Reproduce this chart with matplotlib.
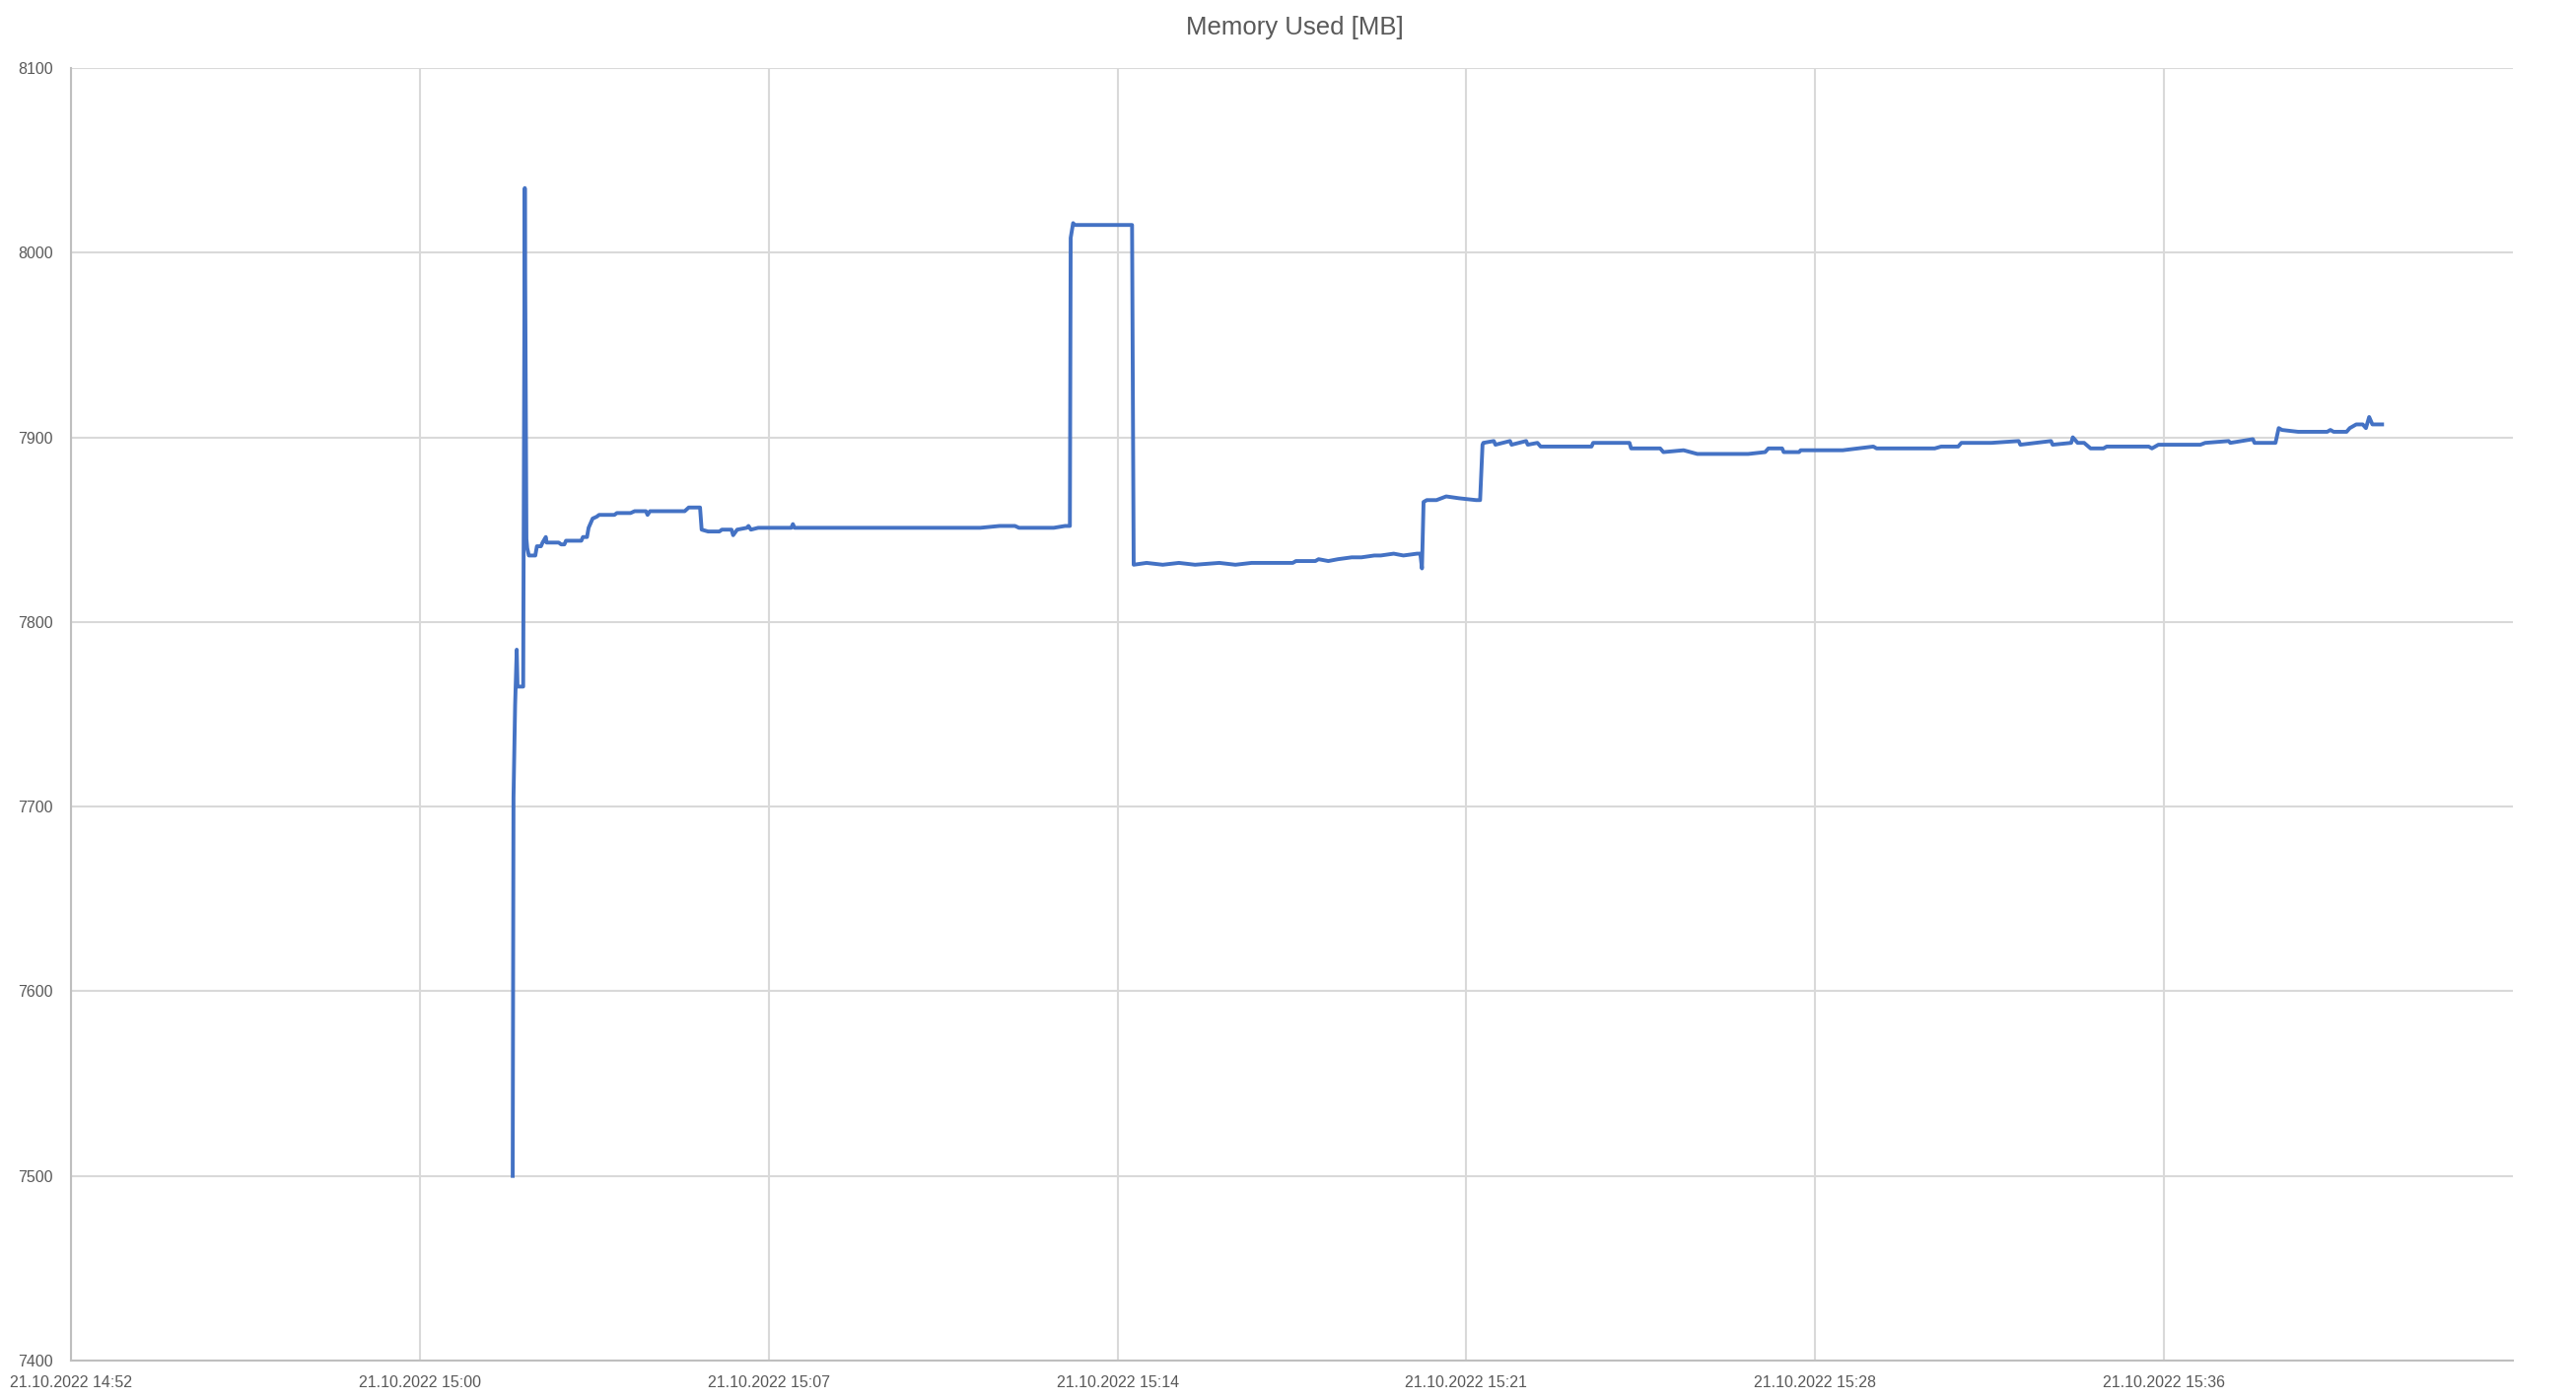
import matplotlib
matplotlib.use("Agg")
import matplotlib.pyplot as plt
import matplotlib.dates as mdates
import pandas as pd

# Leituras aproximadas do gráfico (21.10.2022)
times = [
    "15:01:55", "15:01:56", "15:01:58", "15:02:00", "15:02:01", "15:02:08",
    "15:02:10", "15:02:12", "15:02:13", "15:02:15", "15:02:23", "15:02:25",
    "15:02:30", "15:02:32", "15:02:36", "15:02:37", "15:02:40", "15:02:52",
    "15:02:55", "15:02:59", "15:03:01", "15:03:20", "15:03:22", "15:03:27",
    "15:03:29", "15:03:34", "15:03:39", "15:03:42", "15:04:01", "15:04:04",
    "15:04:21", "15:04:26", "15:04:40", "15:04:42", "15:04:45", "15:05:28",
    "15:05:33", "15:05:47", "15:05:49", "15:05:57", "15:06:11", "15:06:14",
    "15:06:26", "15:06:28", "15:06:33", "15:06:45", "15:06:47", "15:06:50",
    "15:06:59", "15:07:04", "15:07:40", "15:07:42", "15:07:44", "15:11:34",
    "15:11:58", "15:12:17", "15:12:22", "15:13:05", "15:13:19", "15:13:25",
    "15:13:26", "15:13:29", "15:13:31", "15:14:42", "15:14:44", "15:15:00",
    "15:15:20", "15:15:40", "15:16:00", "15:16:30", "15:16:50", "15:17:10",
    "15:17:24", "15:17:28", "15:18:01", "15:18:05", "15:18:29", "15:18:33",
    "15:18:45", "15:18:57", "15:19:14", "15:19:26", "15:19:42", "15:19:50",
    "15:20:06", "15:20:18", "15:20:35", "15:20:39", "15:20:41", "15:20:43",
    "15:20:47", "15:20:59", "15:21:11", "15:21:27", "15:21:48", "15:21:53",
    "15:21:56", "15:21:57", "15:22:10", "15:22:12", "15:22:30", "15:22:32",
    "15:22:50", "15:22:52", "15:23:04", "15:23:08", "15:24:11", "15:24:13",
    "15:24:58", "15:25:00", "15:25:36", "15:25:40", "15:26:05", "15:26:22",
    "15:27:25", "15:27:46", "15:27:50", "15:28:07", "15:28:09", "15:28:28",
    "15:28:30", "15:29:22", "15:30:00", "15:30:04", "15:31:16", "15:31:24",
    "15:31:45", "15:31:49", "15:32:05", "15:32:26", "15:33:00", "15:33:02",
    "15:33:40", "15:33:42", "15:34:05", "15:34:07", "15:34:13", "15:34:21",
    "15:34:29", "15:34:45", "15:34:49", "15:35:41", "15:35:45", "15:35:53",
    "15:36:45", "15:36:51", "15:37:20", "15:37:22", "15:37:50", "15:37:52",
    "15:38:18", "15:38:22", "15:38:26", "15:38:46", "15:39:22", "15:39:26",
    "15:39:30", "15:39:46", "15:39:50", "15:39:58", "15:40:06", "15:40:10",
    "15:40:14", "15:40:18", "15:40:22", "15:40:30",
]
memory_mb = [
    7500, 7705, 7755, 7785, 7765, 7765,
    8035, 7845, 7840, 7836, 7836, 7841,
    7841, 7843, 7846, 7843, 7843, 7843,
    7842, 7842, 7844, 7844, 7846, 7846,
    7851, 7856, 7857, 7858, 7858, 7859,
    7859, 7860, 7860, 7858, 7860, 7860,
    7862, 7862, 7850, 7849, 7849, 7850,
    7850, 7847, 7850, 7851, 7852, 7850,
    7851, 7851, 7851, 7853, 7851, 7851,
    7852, 7852, 7851, 7851, 7852, 7852,
    8008, 8016, 8015, 8015, 7831, 7832,
    7831, 7832, 7831, 7832, 7831, 7832,
    7832, 7832, 7832, 7833, 7833, 7834,
    7833, 7834, 7835, 7835, 7836, 7836,
    7837, 7836, 7837, 7837, 7829, 7865,
    7866, 7866, 7868, 7867, 7866, 7866,
    7896, 7897, 7898, 7896, 7898, 7896,
    7898, 7896, 7897, 7895, 7895, 7897,
    7897, 7894, 7894, 7892, 7893, 7891,
    7891, 7892, 7894, 7894, 7892, 7892,
    7893, 7893, 7895, 7894, 7894, 7895,
    7895, 7897, 7897, 7897, 7898, 7896,
    7898, 7896, 7897, 7900, 7897, 7897,
    7894, 7894, 7895, 7895, 7894, 7896,
    7896, 7897, 7898, 7897, 7899, 7897,
    7897, 7905, 7904, 7903, 7903, 7904,
    7903, 7903, 7905, 7907, 7907, 7905,
    7911, 7907, 7907, 7907,
]

tick_times = ["14:52:48", "15:00:00", "15:07:12", "15:14:24", "15:21:36", "15:28:48", "15:36:00"]
x_end = "15:43:12"
y_ticks = [7400, 7500, 7600, 7700, 7800, 7900, 8000, 8100]
title = "Memory Used [MB]"
day = "2022-10-21 "

x = pd.to_datetime([day + t for t in times])
ticks = pd.to_datetime([day + t for t in tick_times])

fig = plt.figure(figsize=(26.13, 14.2), dpi=100)
ax = fig.add_axes([72 / 2613, 40 / 1420, 2477 / 2613, 1311 / 1420])

ax.plot(x, memory_mb, color="#4472C4", linewidth=2.8, solid_joinstyle="round")

ax.set_xlim(ticks[0], pd.Timestamp(day + x_end))
ax.set_ylim(y_ticks[0], y_ticks[-1])
ax.set_xticks(ticks)
ax.set_yticks(y_ticks)
ax.xaxis.set_major_formatter(mdates.DateFormatter("%d.%m.%Y %H:%M"))

ax.grid(True, color="#D9D9D9", linewidth=1.5)
ax.set_axisbelow(True)
for side in ["top", "right"]:
    ax.spines[side].set_visible(False)
for side in ["left", "bottom"]:
    ax.spines[side].set_color("#BFBFBF")
    ax.spines[side].set_linewidth(1.5)

ax.tick_params(axis="both", length=0, labelsize=11.5, labelcolor="#595959")
ax.tick_params(axis="y", pad=13)
ax.tick_params(axis="x", pad=11)
for lbl in ax.get_xticklabels() + ax.get_yticklabels():
    lbl.set_fontfamily("Liberation Sans")

fig.text(0.5025, 1 - 28 / 1420, title, ha="center", va="center",
         fontsize=18.5, color="#595959", fontfamily="Liberation Sans")

fig.savefig("out.png", dpi=100, facecolor="white")
